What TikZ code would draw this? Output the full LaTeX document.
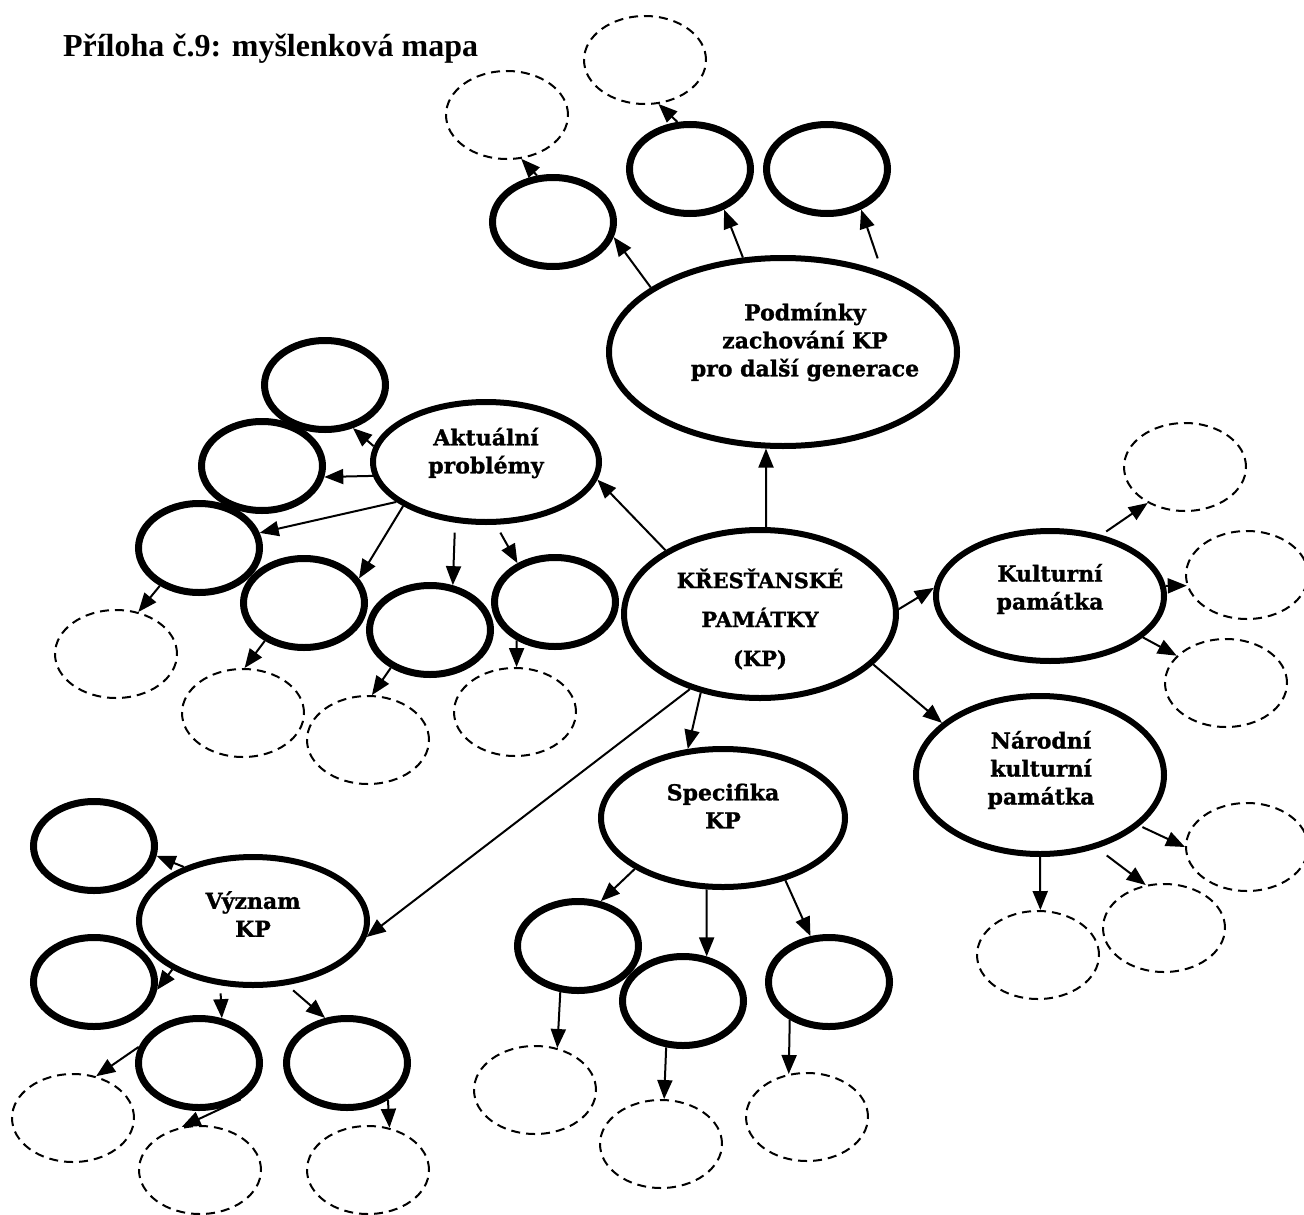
\documentclass[tikz,border=0pt]{standalone}
\usepackage{fontspec}
\setmainfont{DejaVu Serif}
\newfontfamily\titlefamily{Liberation Serif}
\newfontfamily\labelfamily[FakeBold=1.2]{DejaVu Serif Bold}
\usetikzlibrary{shapes.geometric,arrows.meta}

\tikzset{
  big/.style={draw, ellipse, line width=6pt, inner sep=0pt},
  sub/.style={draw, ellipse, line width=7pt, inner sep=0pt, minimum width=121pt, minimum height=89pt},
  idea/.style={draw, ellipse, line width=2pt, dash pattern=on 9pt off 6pt, inner sep=0pt, minimum width=122pt, minimum height=88pt},
  txt/.style={align=center, inner sep=0pt, font=\labelfamily\fontsize{22}{28}\selectfont}
}

\begin{document}
\begin{tikzpicture}[x=1pt, y=-1pt, >={Triangle[length=19pt,width=15pt]}, line width=2pt]
\useasboundingbox (0,0) rectangle (1304,1215);

% Title
\node[anchor=base west, inner sep=0pt, font=\titlefamily\bfseries\fontsize{32}{38}\selectfont] (title) at (62,57) {Příloha č.9: myšlenková mapa};

% Main nodes
\node[big, minimum width=272pt, minimum height=168pt] (kp) at (760,614) {};
\node[big, minimum width=348pt, minimum height=188pt] (podm) at (783,352) {};
\node[big, minimum width=226pt, minimum height=120pt] (akt) at (486,462) {};
\node[big, minimum width=228pt, minimum height=130pt] (kult) at (1050,596) {};
\node[big, minimum width=248pt, minimum height=158pt] (narod) at (1040,775) {};
\node[big, minimum width=244pt, minimum height=138pt] (spec) at (723,818) {};
\node[big, minimum width=228pt, minimum height=128pt] (vyz) at (253,921) {};

% Texts
\node[txt, font=\labelfamily\fontsize{21}{39}\selectfont] (kp text) at (760,619) {KŘESŤANSKÉ\\PAMÁTKY\\(KP)};
\node[txt] (podm text) at (805,342) {Podmínky\\zachování KP\\pro další generace};
\node[txt] (akt text) at (486,453) {Aktuální\\problémy};
\node[txt] (kult text) at (1050,589) {Kulturní\\památka};
\node[txt] (narod text) at (1041,770) {Národní\\kulturní\\památka};
\node[txt] (spec text) at (723,806) {Specifika\\KP};
\node[txt] (vyz text) at (253,914) {Význam\\KP};

% Empty ellipses
\node[sub] (s1) at (553,222) {};
\node[sub] (s2) at (690,169) {};
\node[sub] (s3) at (827,169) {};
\node[sub] (l1) at (325,385) {};
\node[sub] (l2) at (262,466) {};
\node[sub] (l3) at (199,548) {};
\node[sub] (l4) at (304,603) {};
\node[sub] (l5) at (430,630) {};
\node[sub] (l6) at (555,602) {};
\node[sub] (sp1) at (578,946) {};
\node[sub] (sp2) at (683,1001) {};
\node[sub] (sp3) at (829,982) {};
\node[sub] (v1) at (94,846) {};
\node[sub] (v2) at (94,982) {};
\node[sub] (v3) at (199,1063) {};
\node[sub] (v4) at (347,1063) {};

% Dashed ellipses
\node[idea] (d1) at (507,115) {};
\node[idea] (d2) at (645,60) {};
\node[idea] (ld1) at (116,654) {};
\node[idea] (ld2) at (243,713) {};
\node[idea] (ld3) at (368,740) {};
\node[idea] (ld4) at (515,712) {};
\node[idea] (kd1) at (1185,467) {};
\node[idea] (kd2) at (1247,575) {};
\node[idea] (kd3) at (1226,683) {};
\node[idea] (nd1) at (1247,847) {};
\node[idea] (nd2) at (1164,928) {};
\node[idea] (nd3) at (1038,955) {};
\node[idea] (spd1) at (535,1090) {};
\node[idea] (spd2) at (661,1144) {};
\node[idea] (spd3) at (807,1117) {};
\node[idea] (vd1) at (73,1118) {};
\node[idea] (vd2) at (200,1170) {};
\node[idea] (vd3) at (368,1170) {};

% Edges from the centre
\draw[->] (kp.146) -- (akt.-9);
\draw[->] (kp.86) -- (podm.260);
\draw[->] (kp.2) -- (kult.176);
\draw[->] (kp.-24) -- (narod.152);
\draw[->] (kp.233) -- (spec.117);
\draw[->] (kp.227) -- (vyz.-8);

% Podminky
\draw[->] (podm.154) -- (s1.-14);
\draw[->] (podm.113) -- (s2.-50);
\draw[->, shorten <=14pt] (podm.39) -- (s3.-50);
\draw[->] (s1.109) -- (d1.-72);
\draw[->] (s2.105) -- (d2.-73);

% Aktualni problemy
\draw[->] (akt.172) -- (l1.-57);
\draw[->] (akt.187) -- (l2.-10);
\draw[->] (akt.204) -- (l3.14);
\draw[->] (akt.208) -- (l4.24);
\draw[->, shorten <=10pt] (akt.243) -- (l5.63);
\draw[->, shorten <=9pt] (akt.279) -- (l6.134);
\draw[->] (l3.224) -- (ld1.62);
\draw[->] (l4.224) -- (ld2.88);
\draw[->] (l5.224) -- (ld3.85);
\draw[->] (l6.225) -- (ld4.88);

% Kulturni pamatka
\draw[->, shorten <=6pt] (kult.50) -- (kd1.224);
\draw[->] (kult.5) -- (kd2.190);
\draw[->] (kult.-24) -- (kd3.151);

% Narodni kulturni pamatka
\draw[->, shorten <=3pt] (narod.-27) -- (nd1.180);
\draw[->, shorten <=12pt] (narod.-52) -- (nd2.113);
\draw[->] (narod.270) -- (nd3.87);

% Specifika
\draw[->] (spec.210) -- (sp1.63);
\draw[->] (spec.257) -- (sp2.62);
\draw[->] (spec.-45) -- (sp3.112);
\draw[->] (sp1.249) -- (spd1.62);
\draw[->] (sp2.250) -- (spd2.86);
\draw[->] (sp3.224) -- (spd3.113);

% Vyznam
\draw[->] (vyz.142) -- (v1.-9);
\draw[->] (vyz.211) -- (v2.-7);
\draw[->, shorten <=8pt] (vyz.243) -- (v3.63);
\draw[->, shorten <=8pt] (vyz.298) -- (v4.116);
\draw[->] (v3.165) -- (vd1.61);
\draw[->] (v3.-41) -- (vd2.113);
\draw[->] (v4.-42) -- (vd3.63);

\end{tikzpicture}
\end{document}
